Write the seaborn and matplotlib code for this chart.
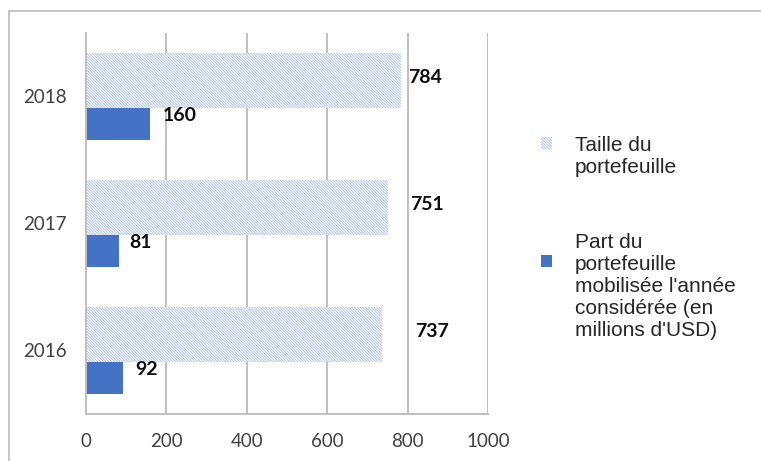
import pandas as pd
import seaborn as sns
import matplotlib.pyplot as plt
from matplotlib.lines import Line2D
from matplotlib.patches import Patch

# ---------- données ----------
annees = [2016, 2017, 2018]
taille = [737, 751, 784]          # taille du portefeuille
mobilise = [92, 81, 160]          # part mobilisée l'année considérée

lab_taille = "Taille du\nportefeuille"
lab_mobilise = "Part du\nportefeuille\nmobilisée l'année\nconsidérée (en\nmillions d'USD)"

# décalages des étiquettes (pixels), comme dans le graphique d'origine
dx_taille = [33, 22, 7]
dx_mobilise = [12, 11, 12]

bleu = "#4472C4"
hachure = "#B3C5EA"
motif = "\\" * 12
gris = "#BFBFBF"

df = pd.DataFrame({"annee": annees, "taille": taille, "mobilise": mobilise})
df["y_taille"] = df["annee"] + 0.126
df["y_mobilise"] = df["annee"] - 0.217

sns.set_style("white")
plt.rcParams["font.family"] = ["Lato", "DejaVu Sans"]
plt.rcParams["hatch.linewidth"] = 0.7

fig = plt.figure(figsize=(7.61, 4.61), dpi=100)
ax = fig.add_axes([86 / 761, 1 - 414 / 461, 402 / 761, 381 / 461])

sns.barplot(data=df, x="taille", y="y_taille", orient="y", native_scale=True,
            width=0.433, color="white", saturation=1, ax=ax)
sns.barplot(data=df, x="mobilise", y="y_mobilise", orient="y", native_scale=True,
            width=0.252, color=bleu, saturation=1, ax=ax)

for p in ax.containers[0]:
    p.set_facecolor("white")
    p.set_edgecolor(hachure)
    p.set_hatch(motif)
    p.set_linewidth(0)
for p in ax.containers[1]:
    p.set_facecolor(bleu)
    p.set_linewidth(0)

# étiquettes de valeurs
for v, y, dx in zip(taille, df["y_taille"], dx_taille):
    ax.annotate(str(v), xy=(v, y), xytext=(dx, 3), textcoords="offset pixels",
                ha="left", va="center", fontsize=14, fontweight="bold", color="#0D0D0D")
for v, y, dx in zip(mobilise, df["y_mobilise"], dx_mobilise):
    ax.annotate(str(v), xy=(v, y), xytext=(dx, 9), textcoords="offset pixels",
                ha="left", va="center", fontsize=14, fontweight="bold", color="#0D0D0D")

ax.set_xlim(0, 1000)
ax.set_ylim(2015.5, 2018.5)
ax.set_xticks([0, 200, 400, 600, 800, 1000])
ax.set_yticks(annees)
ax.set_yticklabels([str(a) for a in annees])
ax.set_xlabel("")
ax.set_ylabel("")
ax.tick_params(axis="both", length=0, labelsize=13.5, colors="#404040", pad=14)

ax.grid(axis="x", color=gris, linewidth=1.4)
ax.set_axisbelow(True)
for s in ["top", "right"]:
    ax.spines[s].set_visible(False)
for s in ["left", "bottom"]:
    ax.spines[s].set_color(gris)
    ax.spines[s].set_linewidth(1.4)

# légende
poignees = [Patch(facecolor="white", edgecolor=hachure, hatch=motif, linewidth=0),
            Patch(facecolor=bleu, linewidth=0)]
leg = fig.legend(poignees, [lab_taille, lab_mobilise], loc="upper left",
                 bbox_to_anchor=(522 / 761, 1 - 117 / 461), frameon=False,
                 handlelength=0.55, handleheight=0.55, handletextpad=1.1,
                 labelspacing=2.7, prop={"family": "Liberation Sans", "size": 15})
for t in leg.get_texts():
    t.set_color("#262626")
    t.set_linespacing(1.2)
# marqueurs remontés comme dans l'original
for h, dy in zip(leg.legend_handles, [9.5, 18.5]):
    h.set_y(h.get_y() + dy)

# cadre du graphique
fig.add_artist(Line2D([9 / 761, 1.0], [1 - 11 / 461, 1 - 11 / 461], color=gris, lw=1.3))
fig.add_artist(Line2D([9 / 761, 9 / 761], [0, 1 - 11 / 461], color=gris, lw=1.3))

fig.savefig("out.png", dpi=100)
